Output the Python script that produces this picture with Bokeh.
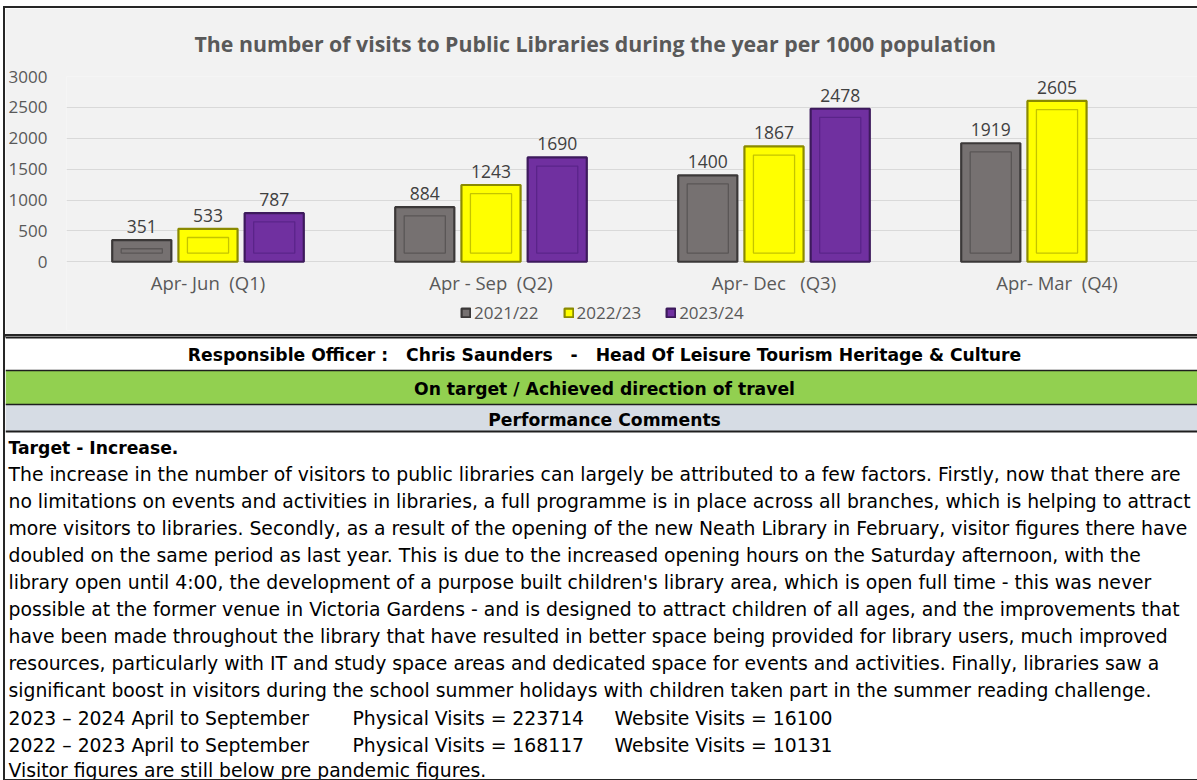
from bokeh.plotting import figure
from bokeh.models import Range1d, FixedTicker, Legend, LegendItem, LabelSet, ColumnDataSource
from bokeh.layouts import column
from bokeh.embed import file_html
from bokeh.resources import INLINE
from bokeh.core.properties import value

# ---------------- data ----------------
categories = ["Apr- Jun\u00a0 (Q1)", "Apr - Sep\u00a0 (Q2)", "Apr- Dec\u00a0\u00a0 (Q3)", "Apr- Mar\u00a0 (Q4)"]
series_names = ["2021/22", "2022/23", "2023/24"]
visits_2021_22 = [351, 884, 1400, 1919]
visits_2022_23 = [533, 1243, 1867, 2605]
visits_2023_24 = [787, 1690, 2478, None]
y_ticks = [0, 500, 1000, 1500, 2000, 2500, 3000]

title_text = "The number of visits to Public Libraries during the year per 1000 population"
officer_text = "Responsible Officer :\u00a0\u00a0 Chris Saunders\u00a0\u00a0 -\u00a0\u00a0 Head Of Leisure Tourism Heritage & Culture"
status_text = "On target / Achieved direction of travel"
comments_header = "Performance Comments"
target_text = "Target - Increase."
comment_lines = [
    "The increase in the number of visitors to public libraries can largely be attributed to a few factors. Firstly, now that there are",
    "no limitations on events and activities in libraries, a full programme is in place across all branches, which is helping to attract",
    "more visitors to libraries. Secondly, as a result of the opening of the new Neath Library in February, visitor figures there have",
    "doubled on the same period as last year. This is due to the increased opening hours on the Saturday afternoon, with the",
    "library open until 4:00, the development of a purpose built children's library area, which is open full time - this was never",
    "possible at the former venue in Victoria Gardens - and is designed to attract children of all ages, and the improvements that",
    "have been made throughout the library that have resulted in better space being provided for library users, much improved",
    "resources, particularly with IT and study space areas and dedicated space for events and activities. Finally, libraries saw a",
    "significant boost in visitors during the school summer holidays with children taken part in the summer reading challenge.",
]
visit_periods = ["2023 \u2013 2024 April to September", "2022 \u2013 2023 April to September"]
physical_visits = ["Physical Visits = 223714", "Physical Visits = 168117"]
website_visits = ["Website Visits = 16100", "Website Visits = 10131"]
closing_text = "Visitor figures are still below pre pandemic figures."

# ---------------- style ----------------
W = 1192
H1 = 328
H2 = 443
FONT = "Open Sans"
BODY_FONT = "DejaVu Sans"
BODY_SIZE = "18.8px"
BOLD_SIZE = "17.2px"
fills = ["#767171", "#ffff00", "#7030a0"]
edges = ["#3b3838", "#8a8a00", "#3d1a5c"]
inners = ["#5a5656", "#c4c400", "#5a2489"]
offsets = [-0.234, 0.0, 0.234]
bar_w = 0.209
cat_px = 283.0
LEFT = 61
TOP = 67
BOTTOM = 6
PX_PER_UNIT = 186.0 / 3000.0          # plot height of 0..3000 in pixels
frame_h = H1 - TOP - BOTTOM
y_start = 3000 - frame_h / PX_PER_UNIT  # extra room below zero for labels/legend

p = figure(width=W, height=H1, output_backend="svg", toolbar_location=None,
           title=title_text, margin=(8, 0, 0, 5),
           x_range=Range1d(-0.5, -0.5 + (W - LEFT) / cat_px), y_range=Range1d(y_start, 3000),
           min_border_left=LEFT, min_border_right=0, min_border_top=TOP, min_border_bottom=BOTTOM,
           background_fill_color="#f2f2f2", border_fill_color="#f2f2f2",
           outline_line_color=None,
           styles={"outline": "2px solid #262626"})
if "frame_align" in p.properties():
    p.frame_align = False

p.title.align = "left"
p.title.offset = 128
p.title.standoff = 37
p.title.text_font = FONT
p.title.text_font_size = "21.3px"
p.title.text_font_style = "bold"
p.title.text_color = "#595959"

xs = list(range(len(categories)))
all_series = [visits_2021_22, visits_2022_23, visits_2023_24]
renderers = []
for k, vals in enumerate(all_series):
    x = [i + offsets[k] for i in xs]
    tops = [float("nan") if v is None else v for v in vals]
    src = ColumnDataSource(dict(x=x, top=tops, itop=[t - 140 for t in tops]))
    r = p.vbar(x="x", top="top", bottom=0, width=bar_w, source=src,
               fill_color=fills[k], line_color=edges[k], line_width=2.2)
    p.vbar(x="x", top="itop", bottom=140, width=bar_w - 18 / cat_px, source=src,
           fill_alpha=0, line_color=inners[k], line_width=1.3)
    renderers.append(r)
    lx = [xi for xi, v in zip(x, vals) if v is not None]
    ly = [v for v in vals if v is not None]
    lsrc = ColumnDataSource(dict(x=lx, y=ly, t=[str(v) for v in ly]))
    p.add_layout(LabelSet(x="x", y="y", text="t", source=lsrc, y_offset=7,
                          text_align="center", text_baseline="alphabetic",
                          text_font=value(FONT), text_font_size="17.5px",
                          text_color="#404040"))

p.xaxis.ticker = FixedTicker(ticks=xs)
p.xaxis.major_label_overrides = {i: c for i, c in zip(xs, categories)}
p.xaxis.fixed_location = 0
p.xaxis.major_label_standoff = 2
p.yaxis.ticker = FixedTicker(ticks=y_ticks)
p.yaxis.major_label_standoff = 13
for ax in (p.xaxis, p.yaxis):
    ax.axis_line_color = None
    ax.major_tick_line_color = None
    ax.minor_tick_line_color = None
    ax.major_label_text_font = FONT
    ax.major_label_text_color = "#595959"
p.xaxis.major_label_text_font_size = "18.5px"
p.yaxis.major_label_text_font_size = "17px"
p.xgrid.grid_line_color = None
p.ygrid.ticker = FixedTicker(ticks=y_ticks)
p.ygrid.grid_line_color = "#d9d9d9"
p.ygrid.grid_line_width = 1

legend = Legend(items=[LegendItem(label=n, renderers=[r]) for n, r in zip(series_names, renderers)],
                orientation="horizontal", location=(394, 6),
                glyph_width=11, glyph_height=11, label_standoff=3, spacing=24,
                padding=0, margin=0, label_height=20,
                background_fill_alpha=0, border_line_alpha=0,
                label_text_font=FONT, label_text_font_size="17px", label_text_color="#595959")
p.add_layout(legend, "center")

# ---------------- lower table ----------------
q = figure(width=W, height=H2, output_backend="svg", toolbar_location=None,
           margin=(0, 0, 0, 5), x_axis_location=None, y_axis_location=None,
           x_range=Range1d(0, W), y_range=Range1d(H2, 0), min_border=0,
           min_border_left=0, min_border_right=0, min_border_top=0, min_border_bottom=0,
           background_fill_color="white", border_fill_color="white", outline_line_color=None,
           styles={"outline": "2px solid #262626"})
if "frame_align" in q.properties():
    q.frame_align = False
q.grid.visible = False

q.quad(left=[0, 0, 0], right=[W, W, W], top=[0, 34, 68], bottom=[34, 68, 95],
       fill_color=["#ffffff", "#92d050", "#d6dce4"], line_color=None)
q.segment(x0=[0, 0, 0, 0], x1=[W, W, W, W], y0=[1, 34, 68, 95], y1=[1, 34, 68, 95],
          line_color="#1e1e1e", line_width=[2, 1.5, 1.5, 2])

q.text(x=[599, 599, 599], y=[18, 52, 83], text=[officer_text, status_text, comments_header],
       text_align="center", text_baseline="middle", text_font=value(BODY_FONT),
       text_font_style="bold", text_font_size=BOLD_SIZE, text_color="#000000")

q.text(x=[3], y=[111], text=[target_text], text_align="left", text_baseline="middle",
       text_font=value(BODY_FONT), text_font_style="bold", text_font_size=BOLD_SIZE, text_color="#000000")

body_y = [138 + 27 * i for i in range(len(comment_lines))]
q.text(x=[3] * len(comment_lines), y=body_y, text=comment_lines, text_align="left",
       text_baseline="middle", text_font=value(BODY_FONT), text_font_size=BODY_SIZE, text_color="#000000")

vy = [382, 409]
q.text(x=[3, 3], y=vy, text=visit_periods, text_align="left", text_baseline="middle",
       text_font=value(BODY_FONT), text_font_size=BODY_SIZE, text_color="#000000")
q.text(x=[347, 347], y=vy, text=physical_visits, text_align="left", text_baseline="middle",
       text_font=value(BODY_FONT), text_font_size=BODY_SIZE, text_color="#000000")
q.text(x=[609, 609], y=vy, text=website_visits, text_align="left", text_baseline="middle",
       text_font=value(BODY_FONT), text_font_size=BODY_SIZE, text_color="#000000")
q.text(x=[3], y=[434], text=[closing_text], text_align="left", text_baseline="middle",
       text_font=value(BODY_FONT), text_font_size=BODY_SIZE, text_color="#000000")

layout = column(p, q, spacing=0)
open("out.html", "w").write(file_html(layout, INLINE))
